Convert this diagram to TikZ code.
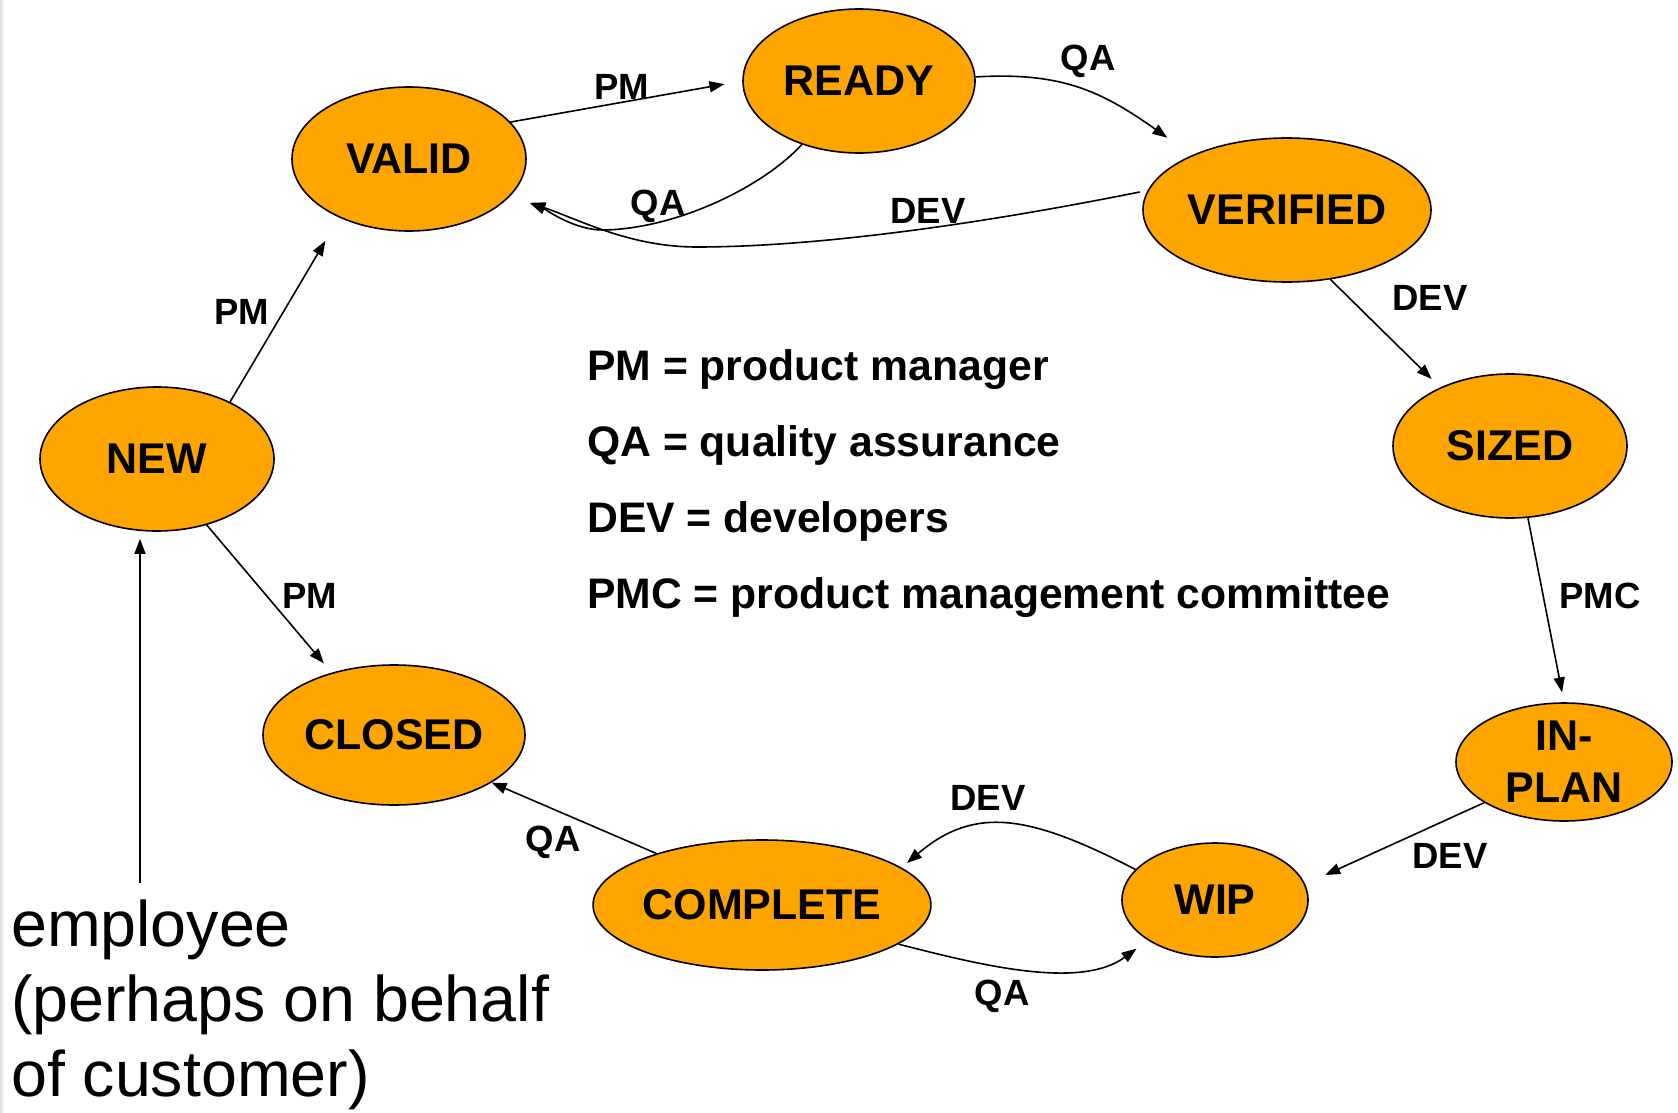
\documentclass[tikz,border=0pt]{standalone}
\usepackage{fontspec}
\setmainfont{Liberation Sans}
\usetikzlibrary{shapes.geometric,arrows.meta}
\definecolor{stateorange}{RGB}{255,165,0}
\begin{document}
\begin{tikzpicture}[x=1pt,y=-1pt,
  state/.style={ellipse, draw=black, line width=1.6pt, fill=stateorange, inner sep=0pt,
    font=\fontsize{43}{52}\selectfont\bfseries, align=center},
  lbl/.style={font=\fontsize{36.5}{40}\selectfont\bfseries, inner sep=0pt, text depth=0pt},
  trans/.style={draw=black, line width=1.6pt, -{Triangle[length=15pt,width=11pt]}},
  legend/.style={anchor=base west, inner sep=0pt, font=\fontsize{42.7}{50}\selectfont\bfseries},
  emp/.style={anchor=base west, inner sep=0pt, font=\fontsize{64.5}{75}\selectfont}
]
\useasboundingbox (0,0) rectangle (1678,1113);
\fill[white] (0,0) rectangle (1678,1113);
\fill[gray!22] (0,0) rectangle (2,1113);
\fill[gray!10] (2,0) rectangle (4,1113);

% states
\node[state, minimum width=234pt, minimum height=144pt] (VALID) at (409,159) {VALID};
\node[state, minimum width=232pt, minimum height=144pt] (READY) at (859,81) {READY};
\node[state, minimum width=288pt, minimum height=144pt] (VERIFIED) at (1287,210) {VERIFIED};
\node[state, minimum width=234pt, minimum height=144pt] (SIZED) at (1510,446) {SIZED};
\node[state, minimum width=216pt, minimum height=118pt] (INPLAN) at (1564,762) {IN-\\PLAN};
\node[state, minimum width=186pt, minimum height=114pt] (WIP) at (1215,900) {WIP};
\node[state, minimum width=336pt, minimum height=130pt] (COMPLETE) at (762,905) {COMPLETE};
\node[state, minimum width=262pt, minimum height=140pt] (CLOSED) at (394,735) {CLOSED};
\node[state, minimum width=234pt, minimum height=144pt] (NEW) at (157,459) {NEW};

% transitions
\draw[trans, shorten >=18pt] (VALID.20) -- (READY.west);
\draw[trans, shorten >=30pt] (READY.2) .. controls (1060,72) and (1100,90) .. (VERIFIED.150);
\draw[trans, shorten >=21pt] (READY.228) .. controls (765,185) and (680,228) .. (605,230)
   .. controls (575,231) and (545,209) .. (VALID.340);
\draw[trans, shorten <=8pt, shorten >=21pt] (VERIFIED.172) .. controls (950,230) and (800,247) .. (697,247)
   .. controls (630,247) and (580,220) .. (VALID.340);
\draw[trans, shorten >=12pt] (VERIFIED.302) -- (SIZED.140);
\draw[trans, shorten >=10pt] (SIZED.284) -- (INPLAN.north);
\draw[trans, shorten >=22pt] (INPLAN.207) -- (WIP.10);
\draw[trans, shorten >=7pt] (WIP.159) .. controls (1030,815) and (975,805) .. (COMPLETE.15);
\draw[trans, shorten >=14pt] (COMPLETE.344) .. controls (980,965) and (1080,990) .. (WIP.211);
\draw[trans] (COMPLETE.154) -- (CLOSED.334);
\draw[trans, shorten >=12pt] (NEW.307) -- (CLOSED.135);
\draw[trans, shorten >=27pt] (NEW.38) -- (VALID.220);
\coordinate (EMPTOP) at (140,883);
\draw[trans, shorten >=7pt] (EMPTOP) -- (EMPTOP |- NEW.south);

% transition labels
\node[lbl] (l1) at (622,87) {PM};
\node[lbl] (l2) at (1088,58) {QA};
\node[lbl] (l3) at (658,203) {QA};
\node[lbl] (l4) at (928,211) {DEV};
\node[lbl] (l5) at (1430,298) {DEV};
\node[lbl] (l6) at (1600,596) {PMC};
\node[lbl] (l7) at (1450,856) {DEV};
\node[lbl] (l8) at (988,798) {DEV};
\node[lbl] (l9) at (1002,993) {QA};
\node[lbl] (l10) at (553,839) {QA};
\node[lbl] (l11) at (310,596) {PM};
\node[lbl] (l12) at (242,312) {PM};

% legend
\node[legend] (leg1) at (587,380) {PM = product manager};
\node[legend] (leg2) at (587,456) {QA = quality assurance};
\node[legend] (leg3) at (587,532) {DEV = developers};
\node[legend] (leg4) at (587,608) {PMC = product management committee};

% originator
\node[emp] (emp1) at (11,946) {employee};
\node[emp] (emp2) at (11,1021) {(perhaps on behalf};
\node[emp] (emp3) at (11,1096) {of customer)};
\end{tikzpicture}
\end{document}
